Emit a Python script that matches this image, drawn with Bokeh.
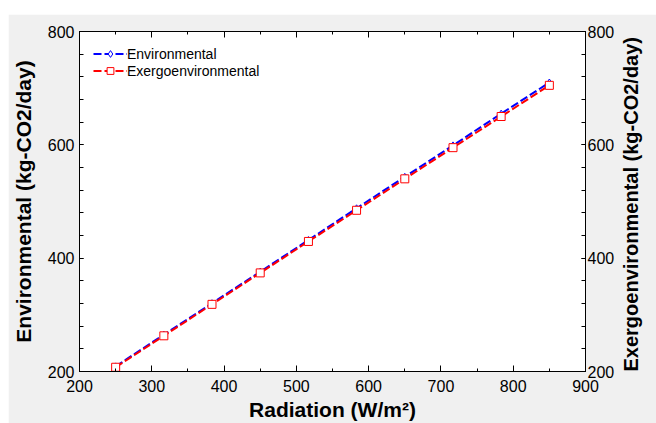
import math
from bokeh.plotting import figure
from bokeh.layouts import column, row
from bokeh.models import (Range1d, LinearAxis, SingleIntervalTicker, Legend, LegendItem,
                          Spacer)
from bokeh.embed import file_html
from bokeh.resources import INLINE

# Data
radiation = [250, 316.7, 383.3, 450, 516.7, 583.3, 650, 716.7, 783.3, 850]
environmental = [209, 265, 320.5, 376, 432, 488, 543.5, 599, 655, 710]
exergoenvironmental = [207.5, 263, 318.5, 374, 429.5, 484.5, 540, 595, 650, 705]
x_ticks = [200, 300, 400, 500, 600, 700, 800, 900]
y_ticks = [200, 400, 600, 800]

FONT = "Liberation Sans"
BG = "#f0f0f0"

p = figure(width=648, height=409, output_backend="svg", toolbar_location=None,
           x_range=Range1d(200, 900), y_range=Range1d(200, 800),
           x_axis_type=None, y_axis_type=None,
           min_border_left=67, min_border_right=70, min_border_top=17, min_border_bottom=51)
p.border_fill_color = BG
p.background_fill_color = "white"
p.outline_line_color = "black"
p.outline_line_width = 1
p.grid.visible = False

def style_axis(ax, tick_in, minor_in):
    ax.major_tick_in = tick_in
    ax.major_tick_out = 0
    ax.minor_tick_in = minor_in
    ax.minor_tick_out = 0
    ax.axis_line_color = "black"
    ax.major_tick_line_color = "black"
    ax.minor_tick_line_color = "black"
    ax.major_label_text_font = FONT
    ax.major_label_text_font_size = "16px"
    ax.major_label_text_color = "black"
    ax.axis_label_text_font = FONT
    ax.axis_label_text_font_size = "21px"
    ax.axis_label_text_font_style = "bold"
    ax.axis_label_text_color = "black"

x_step = x_ticks[1] - x_ticks[0]
y_step = y_ticks[1] - y_ticks[0]

xb = LinearAxis(ticker=SingleIntervalTicker(interval=x_step, num_minor_ticks=2),
                axis_label="Radiation (W/m²)")
style_axis(xb, 6, 3)
xb.major_label_standoff = 8
xb.axis_label_standoff = 3
p.add_layout(xb, "below")

xt = LinearAxis(ticker=SingleIntervalTicker(interval=x_step, num_minor_ticks=2))
style_axis(xt, 6, 3)
xt.major_label_overrides = {t: "" for t in x_ticks}
xt.major_label_standoff = 0
p.add_layout(xt, "above")

yl = LinearAxis(ticker=SingleIntervalTicker(interval=y_step, num_minor_ticks=5),
                axis_label="Environmental (kg-CO2/day)")
style_axis(yl, 4, 4)
yl.major_label_standoff = 5
yl.axis_label_standoff = 10
p.add_layout(yl, "left")

yr = LinearAxis(ticker=SingleIntervalTicker(interval=y_step, num_minor_ticks=5),
                axis_label="Exergoenvironmental (kg-CO2/day)")
style_axis(yr, 4, 4)
yr.axis_label_text_font_size = "20px"
yr.major_label_standoff = 2
yr.axis_label_standoff = 14
yr.axis_label_orientation = math.pi / 2
try:
    yr.axis_label_align = "start"
except Exception:
    pass
p.add_layout(yr, "right")

l1 = p.line(radiation, environmental, line_color="blue", line_width=2, line_dash="8 3")
m1 = p.scatter(radiation, environmental, marker="diamond", size=7, line_color="blue",
               fill_color="white", line_width=1)
l2 = p.line(radiation, exergoenvironmental, line_color="red", line_width=2, line_dash="8 3")
m2 = p.scatter(radiation, exergoenvironmental, marker="square", size=8, line_color="red",
               fill_color="white", line_width=1)

legend = Legend(items=[LegendItem(label="Environmental", renderers=[l1, m1]),
                       LegendItem(label="Exergoenvironmental", renderers=[l2, m2])],
                location="top_left")
legend.margin = 14
legend.padding = 2
legend.spacing = 0
legend.glyph_width = 34
legend.glyph_height = 17
legend.label_height = 17
legend.label_standoff = 0
legend.label_text_font = FONT
legend.label_text_font_size = "14px"
legend.label_text_color = "black"
legend.border_line_color = None
legend.background_fill_alpha = 0
p.add_layout(legend)

layout = column(Spacer(width=656, height=14),
                row(Spacer(width=8, height=409), p))

open("out.html", "w").write(file_html(layout, INLINE))
